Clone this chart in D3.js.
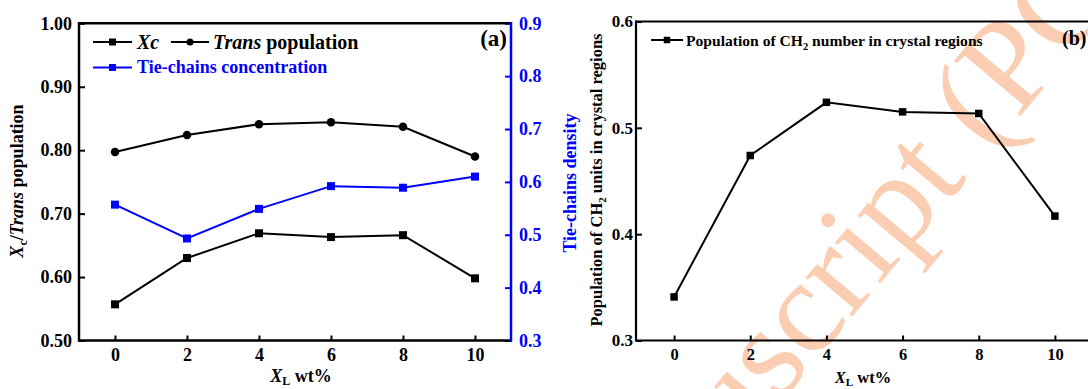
<!DOCTYPE html>
<html>
<head>
<meta charset="utf-8">
<script src="https://cdn.jsdelivr.net/npm/d3@7"></script>
<style>
  html, body { margin: 0; padding: 0; background: #fff; }
  svg { display: block; font-family: "Liberation Serif", "Times New Roman", serif; font-weight: bold; }
</style>
</head>
<body>
<svg id="fig" width="1088" height="389"></svg>
<script>
// X_L content (wt%)
const xlLoading = [0, 2, 4, 6, 8, 10];
const xTicks = [0, 2, 4, 6, 8, 10];

// Panel (a)
const crystallinity = [0.557, 0.630, 0.669, 0.663, 0.666, 0.598];
const transPopulation = [0.797, 0.824, 0.841, 0.844, 0.837, 0.790];
const tieChains = [0.557, 0.493, 0.549, 0.592, 0.589, 0.610];
const leftTicksA = [0.5, 0.6, 0.7, 0.8, 0.9, 1.0];
const rightTicksA = [0.3, 0.4, 0.5, 0.6, 0.7, 0.8, 0.9];

// Panel (b)
const ch2Population = [0.341, 0.474, 0.524, 0.515, 0.5135, 0.417];
const ticksB = [0.3, 0.4, 0.5, 0.6];

const BLUE = "#0000ff";
const svg = d3.select("#fig");

// faint watermark behind both panels
svg.append("text")
  .attr("transform", "translate(240,1046) rotate(-50)")
  .attr("font-size", 132)
  .attr("font-weight", "normal")
  .attr("fill", "#fbcdb2")
  .text("Accepted Manuscript (PCCP)");

// ---------- Panel (a) ----------
const xA = d3.scaleLinear().domain([-1, 11]).range([79, 511]);
const yA = d3.scaleLinear().domain([0.5, 1.0]).range([340.5, 23.3]);
const yA2 = d3.scaleLinear().domain([0.3, 0.9]).range([340.5, 23.3]);

const gA = svg.append("g");

function styleAxis(g, size, color) {
  g.select(".domain").remove();
  g.selectAll(".tick line").attr("stroke", color).attr("stroke-width", 2);
  g.selectAll(".tick text").attr("fill", color).attr("font-size", size)
    .attr("font-family", "Liberation Serif").attr("font-weight", "bold");
}

gA.append("g").attr("transform", `translate(0,${yA.range()[0]})`)
  .call(d3.axisBottom(xA).tickValues(xTicks).tickSize(-5).tickPadding(8).tickFormat(d3.format("d")))
  .call(g => styleAxis(g, 18, "#000"));
gA.append("g").attr("transform", `translate(${xA.range()[0]},0)`)
  .call(d3.axisLeft(yA).tickValues(leftTicksA).tickSize(-6).tickPadding(7).tickFormat(d3.format(".2f")))
  .call(g => styleAxis(g, 18, "#000"));
gA.append("g").attr("transform", `translate(${xA.range()[1]},0)`)
  .call(d3.axisRight(yA2).tickValues(rightTicksA).tickSize(-6).tickPadding(8).tickFormat(d3.format(".1f")))
  .call(g => styleAxis(g, 18, BLUE));

// frame
const [ax0, ax1] = xA.range();
const [ay0, ay1] = yA.range();
gA.append("line").attr("x1", ax0).attr("x2", ax1 + 1).attr("y1", ay0).attr("y2", ay0).attr("stroke", "#000").attr("stroke-width", 2.5);
gA.append("line").attr("x1", ax0).attr("x2", ax1).attr("y1", ay1).attr("y2", ay1).attr("stroke", "#000").attr("stroke-width", 2.5);
gA.append("line").attr("x1", ax0).attr("x2", ax0).attr("y1", ay0 + 1.2).attr("y2", ay1 - 1.2).attr("stroke", "#000").attr("stroke-width", 2.5);
gA.append("line").attr("x1", ax1).attr("x2", ax1).attr("y1", ay0 + 1.2).attr("y2", ay1 - 1.2).attr("stroke", BLUE).attr("stroke-width", 2.5);

function drawSeries(g, xs, ys, values, color, shape, size) {
  const pts = xlLoading.map((x, i) => [xs(x), ys(values[i])]);
  g.append("path").attr("d", d3.line()(pts)).attr("fill", "none")
    .attr("stroke", color).attr("stroke-width", 2);
  pts.forEach(([px, py]) => {
    if (shape === "circle") {
      g.append("circle").attr("cx", px).attr("cy", py).attr("r", size / 2).attr("fill", color);
    } else {
      g.append("rect").attr("x", px - size / 2).attr("y", py - size / 2)
        .attr("width", size).attr("height", size).attr("fill", color);
    }
  });
}

drawSeries(gA, xA, yA, transPopulation, "#000", "circle", 8.5);
drawSeries(gA, xA, yA, crystallinity, "#000", "rect", 8);
drawSeries(gA, xA, yA2, tieChains, BLUE, "rect", 8);

// legend (a)
function legendSwatch(g, x1, x2, y, color, shape, size) {
  g.append("line").attr("x1", x1).attr("x2", x2).attr("y1", y).attr("y2", y)
    .attr("stroke", color).attr("stroke-width", 2);
  const cx = (x1 + x2) / 2;
  if (shape === "circle") g.append("circle").attr("cx", cx).attr("cy", y).attr("r", size / 2).attr("fill", color);
  else g.append("rect").attr("x", cx - size / 2).attr("y", y - size / 2).attr("width", size).attr("height", size).attr("fill", color);
}
legendSwatch(gA, 93, 132, 42, "#000", "rect", 7);
gA.append("text").attr("x", 137).attr("y", 48.5).attr("font-size", 20)
  .append("tspan").attr("font-style", "italic").text("Xc");
legendSwatch(gA, 171, 209, 42, "#000", "circle", 7);
const tp = gA.append("text").attr("x", 213).attr("y", 48.5).attr("font-size", 20);
tp.append("tspan").attr("font-style", "italic").text("Trans");
tp.append("tspan").text(" population");
legendSwatch(gA, 93, 132, 67.5, BLUE, "rect", 7);
gA.append("text").attr("x", 137).attr("y", 73).attr("font-size", 18).attr("fill", BLUE)
  .text("Tie-chains concentration");

gA.append("text").attr("x", 507).attr("y", 46).attr("text-anchor", "end")
  .attr("font-size", 23).text("(a)");

// axis titles (a)
const xtA = gA.append("text").attr("x", 301).attr("y", 382).attr("text-anchor", "middle").attr("font-size", 18);
xtA.append("tspan").attr("font-style", "italic").text("X");
xtA.append("tspan").attr("font-size", 12).attr("dy", 3).text("L");
xtA.append("tspan").attr("dy", -3).text(" wt%");

const ytA = gA.append("text").attr("transform", "translate(23,181) rotate(-90)")
  .attr("text-anchor", "middle").attr("font-size", 18);
ytA.append("tspan").attr("font-style", "italic").text("X");
ytA.append("tspan").attr("font-size", 12).attr("dy", 4).text("c");
ytA.append("tspan").attr("dy", -4).text("/");
ytA.append("tspan").attr("font-style", "italic").text("Trans");
ytA.append("tspan").text(" population");

gA.append("text").attr("transform", "translate(576,183) rotate(-90)")
  .attr("text-anchor", "middle").attr("font-size", 18).attr("fill", BLUE)
  .text("Tie-chains density");

// ---------- Panel (b) ----------
const xB = d3.scaleLinear().domain([-1, 11]).range([636, 1093]);
const yB = d3.scaleLinear().domain([0.3, 0.6]).range([340.5, 21.5]);
const gB = svg.append("g");

gB.append("g").attr("transform", `translate(0,${yB.range()[0]})`)
  .call(d3.axisBottom(xB).tickValues(xTicks).tickSize(-5).tickPadding(8).tickFormat(d3.format("d")))
  .call(g => styleAxis(g, 16.5, "#000"));
gB.append("g").attr("transform", `translate(${xB.range()[0]},0)`)
  .call(d3.axisLeft(yB).tickValues(ticksB).tickSize(-6).tickPadding(3).tickFormat(d3.format(".1f")))
  .call(g => styleAxis(g, 17, "#000"));

const [bx0, bx1] = xB.range();
const [by0, by1] = yB.range();
gB.append("line").attr("x1", bx0).attr("x2", bx1).attr("y1", by0).attr("y2", by0).attr("stroke", "#000").attr("stroke-width", 2.2);
gB.append("line").attr("x1", bx0).attr("x2", bx1).attr("y1", by1).attr("y2", by1).attr("stroke", "#000").attr("stroke-width", 2.2);
gB.append("line").attr("x1", bx0).attr("x2", bx0).attr("y1", by0 + 1.1).attr("y2", by1 - 1.1).attr("stroke", "#000").attr("stroke-width", 2.2);
gB.append("line").attr("x1", bx1).attr("x2", bx1).attr("y1", by0 + 1.1).attr("y2", by1 - 1.1).attr("stroke", "#000").attr("stroke-width", 2.2);

drawSeries(gB, xB, yB, ch2Population, "#000", "rect", 7.5);

legendSwatch(gB, 651, 683, 40, "#000", "rect", 6.5);
const lb = gB.append("text").attr("x", 686).attr("y", 45.5).attr("font-size", 15.6);
lb.append("tspan").text("Population of CH");
lb.append("tspan").attr("font-size", 10.5).attr("dy", 4).text("2");
lb.append("tspan").attr("dy", -4).text(" number in crystal regions");

gB.append("text").attr("x", 1062).attr("y", 45).attr("font-size", 20).text("(b)");

const xtB = gB.append("text").attr("x", 863).attr("y", 383).attr("text-anchor", "middle").attr("font-size", 16.5);
xtB.append("tspan").attr("font-style", "italic").text("X");
xtB.append("tspan").attr("font-size", 11).attr("dy", 3).text("L");
xtB.append("tspan").attr("dy", -3).text(" wt%");

const ytB = gB.append("text").attr("transform", "translate(602,180) rotate(-90)")
  .attr("text-anchor", "middle").attr("font-size", 16.5);
ytB.append("tspan").text("Population of CH");
ytB.append("tspan").attr("font-size", 11).attr("dy", 4).text("2");
ytB.append("tspan").attr("dy", -4).text(" units in crystal regions");
</script>
</body>
</html>
